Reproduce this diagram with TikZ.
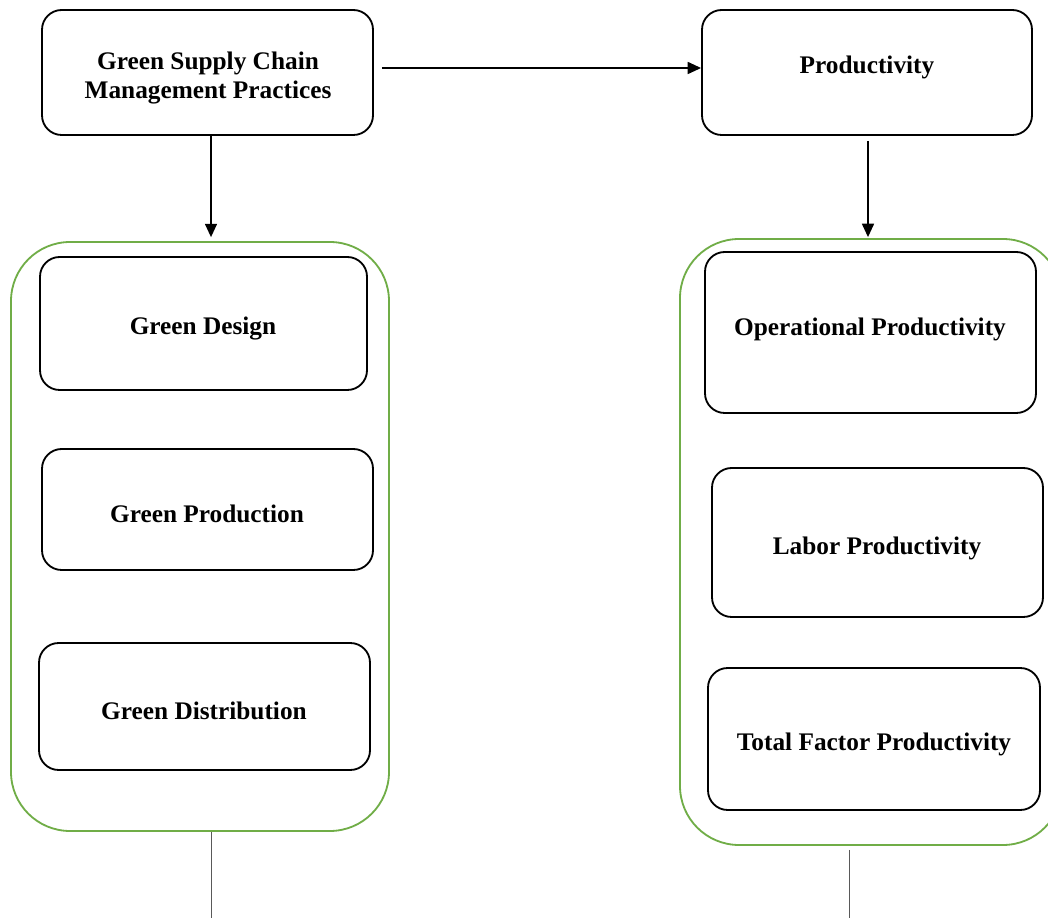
\documentclass[tikz,border=0pt]{standalone}
\usepackage{fontspec}
\setmainfont{Liberation Serif}
\usetikzlibrary{fit,arrows.meta}
\definecolor{grn}{HTML}{70AD47}
\tikzset{
  box/.style={draw=black, line width=1.3pt, rounded corners=14pt, inner sep=0pt},
  grp/.style={draw=grn, line width=1.3pt, rounded corners=42pt, inner sep=0pt},
  lbl/.style={font=\fontsize{18}{21.3}\selectfont\bfseries, align=center, inner sep=0pt},
  arr/.style={line width=1.2pt, -{Triangle[length=9.5pt,width=8.5pt]}},
  tail/.style={line width=0.7pt, draw=black!65}
}
\begin{document}
\begin{tikzpicture}[x=0.025cm,y=-0.025cm]
\useasboundingbox (0,0) rectangle (1048,918);
\clip (0,0) rectangle (1048,918);
% top boxes
\node[box, fit={(42,10) (373,135)}] (gscm) {};
\node[lbl] (tgscm) at (208,78) {Green Supply Chain\\Management Practices};
\node[box, fit={(702,10) (1032,135)}] (prod) {};
\node[lbl] (tprod) at (867,67) {Productivity};
% left group
\node[grp, fit={(11,242) (389,831)}] (lgrp) {};
\node[box, fit={(40,257) (367,390)}] (gd) {};
\node[lbl] (tgd) at (203,329) {Green Design};
\node[box, fit={(42,449) (373,570)}] (gp) {};
\node[lbl] (tgp) at (207,514) {Green Production};
\node[box, fit={(39,643) (370,770)}] (gdi) {};
\node[lbl] (tgdi) at (204,711) {Green Distribution};
% right group
\node[grp, fit={(680,239) (1062,845)}] (rgrp) {};
\node[box, fit={(705,252) (1036,413)}] (op) {};
\node[lbl] (top) at (870,329) {Operational Productivity};
\node[box, fit={(712,468) (1043,617)}] (lp) {};
\node[lbl] (tlp) at (877,548) {Labor Productivity};
\node[box, fit={(708,668) (1040,810)}] (tfp) {};
\node[lbl] (ttfp) at (874,744) {Total Factor Productivity};
% connectors
\coordinate (ya) at (0,68);
\coordinate (la) at (211,0);
\coordinate (ra) at (868,0);
\coordinate (lend) at (211,918);
\coordinate (rend) at (849,918);
\draw[arr, shorten <=5.7pt] (gscm.east |- ya) -- (prod.west |- ya);
\draw[arr, shorten >=2.8pt] (la |- gscm.south) -- (la |- lgrp.north);
\draw[arr, shorten <=3.5pt, shorten >=0.7pt] (ra |- prod.south) -- (ra |- rgrp.north);
\draw[tail] (lend |- lgrp.south) -- (lend);
\draw[tail, shorten <=2.8pt] (rend |- rgrp.south) -- (rend);
\end{tikzpicture}
\end{document}
